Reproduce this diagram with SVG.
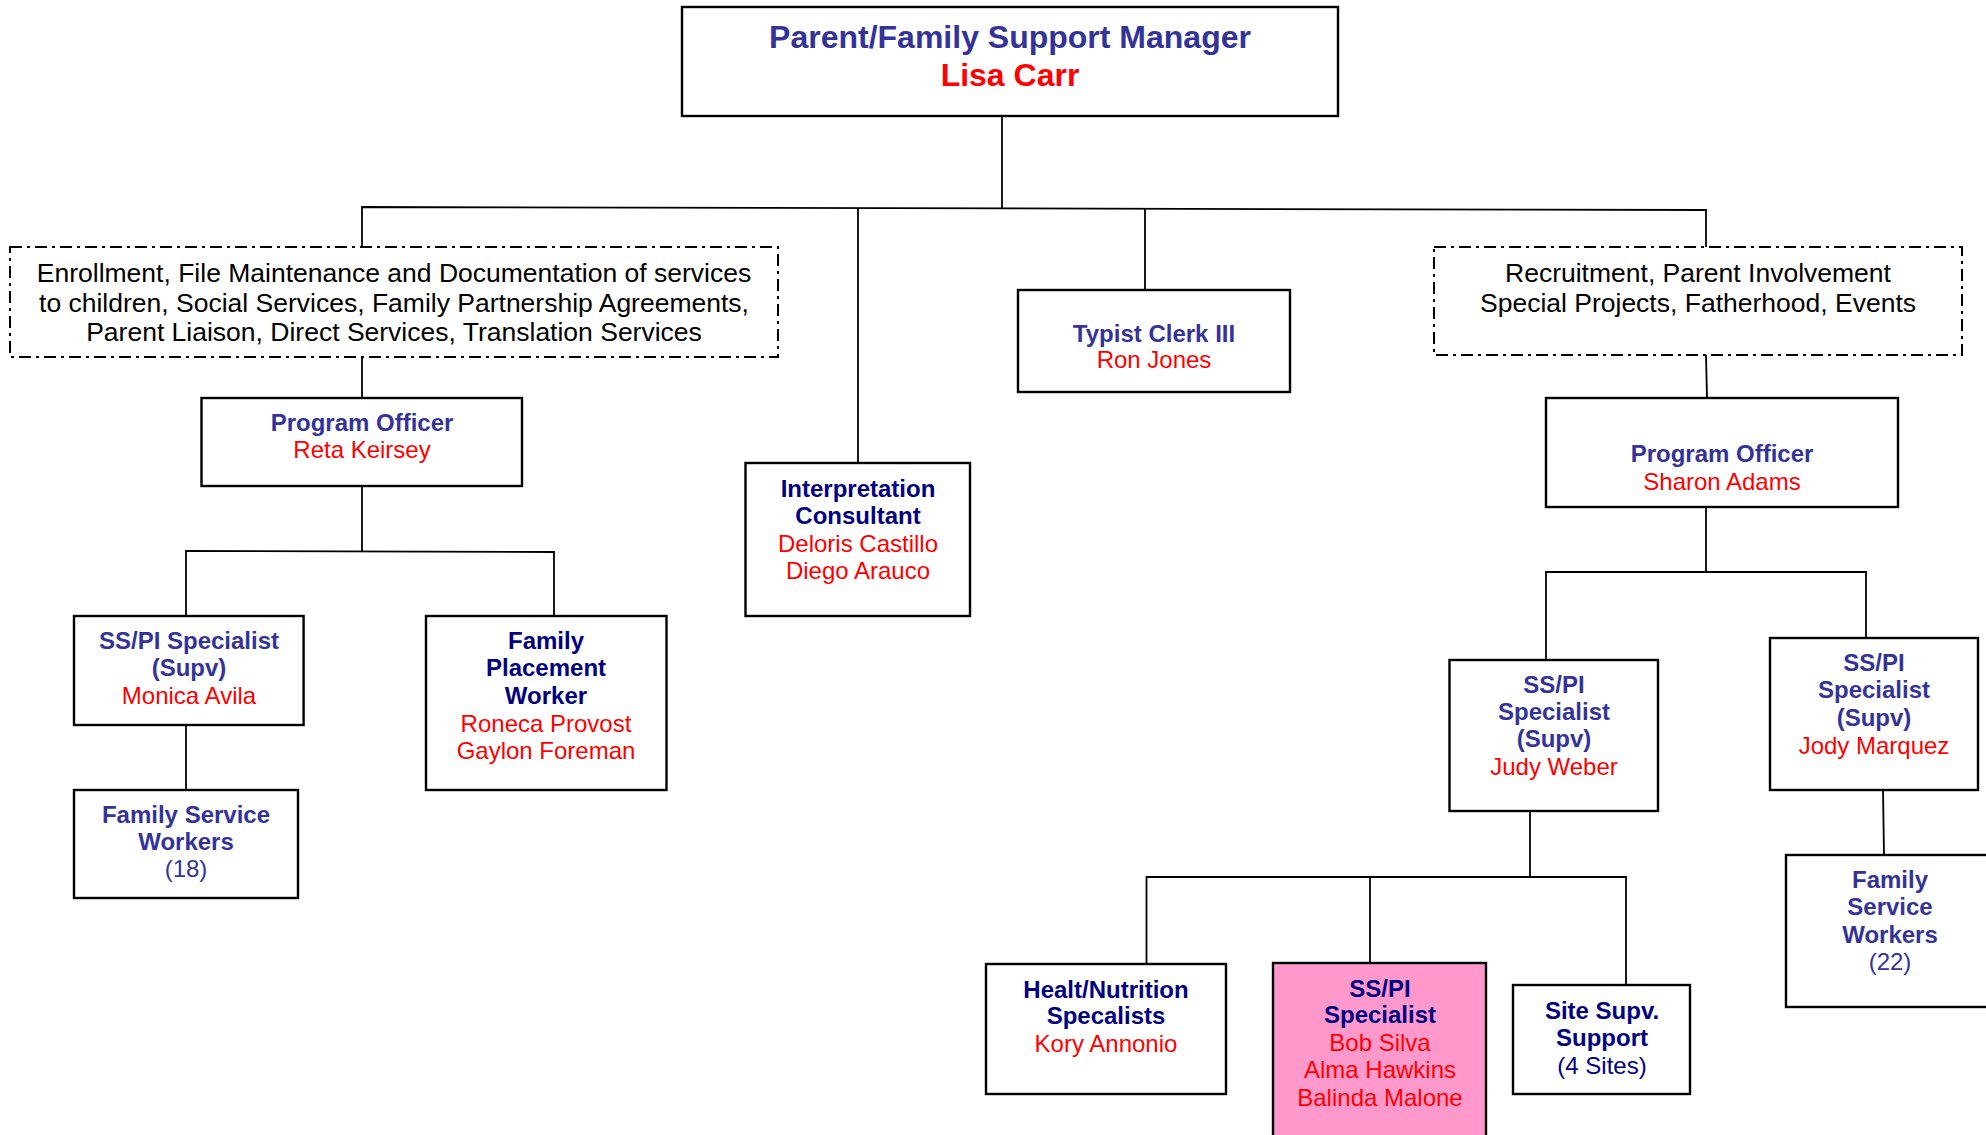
<svg xmlns="http://www.w3.org/2000/svg" width="1986" height="1135" viewBox="0 0 1986 1135">
<style>
.box{fill:#fff;stroke:#000;stroke-width:2.4}
.dash{fill:#fff;stroke:#000;stroke-width:2;stroke-dasharray:12 5 3 5}
.pink{fill:#ff99cc;stroke:#000;stroke-width:2.4}
.con{fill:none;stroke:#000;stroke-width:1.8}
text{font-family:"Liberation Sans",Arial,sans-serif;font-size:24px;text-anchor:middle}
.t{fill:#333399;font-weight:bold}
.tn{fill:#000080;font-weight:bold}
.n{fill:#ff0000}
.c{fill:#333399}
.cn{fill:#000080}
.d{fill:#000;font-size:26.5px}
.big{font-size:32px}
</style>
<rect width="1986" height="1135" fill="#fff"/>
<g id="connectors">
<path class="con" d="M1002,116 V208"/>
<path class="con" d="M362,247 V207 L1706,210 V247"/>
<path class="con" d="M858,208 V463"/>
<path class="con" d="M1145,209 V290"/>
<path class="con" d="M362,357 V398"/>
<path class="con" d="M1706,355 L1707,398"/>
<path class="con" d="M362,486 V551"/>
<path class="con" d="M186,616 V551 L554,552 V616"/>
<path class="con" d="M186,725 V790"/>
<path class="con" d="M1706,507 V572"/>
<path class="con" d="M1546,660 V572 H1866 V638"/>
<path class="con" d="M1883,790 L1884,855"/>
<path class="con" d="M1530,811 V877"/>
<path class="con" d="M1146.5,964 V877 H1626 V985"/>
<path class="con" d="M1370,877 V964"/>
</g>
<g id="manager">
<rect class="box" x="682" y="7" width="656" height="109"/>
<text x="1010" y="48" class="t big">Parent/Family Support Manager</text>
<text x="1010" y="86" class="n big" font-weight="bold">Lisa Carr</text>
</g>
<g id="enrollment-group">
<rect class="dash" x="10" y="247" width="768" height="110"/>
<text x="394" y="282" class="d">Enrollment, File Maintenance and Documentation of services</text>
<text x="394" y="311.5" class="d">to children, Social Services, Family Partnership Agreements,</text>
<text x="394" y="341" class="d">Parent Liaison, Direct Services, Translation Services</text>
</g>
<g id="recruitment-group">
<rect class="dash" x="1434" y="247" width="528" height="108"/>
<text x="1698" y="282" class="d">Recruitment, Parent Involvement</text>
<text x="1698" y="312" class="d">Special Projects, Fatherhood, Events</text>
</g>
<g id="typist-clerk">
<rect class="box" x="1018" y="290" width="272" height="102"/>
<text x="1154" y="342" class="t">Typist Clerk III</text>
<text x="1154" y="368" class="n">Ron Jones</text>
</g>
<g id="program-officer-left">
<rect class="box" x="201.5" y="398" width="320.5" height="88"/>
<text x="362" y="431" class="t">Program Officer</text>
<text x="362" y="458" class="n">Reta Keirsey</text>
</g>
<g id="interpretation-consultant">
<rect class="box" x="745.5" y="463" width="224.5" height="153"/>
<text x="858" y="497" class="tn">Interpretation</text>
<text x="858" y="524" class="tn">Consultant</text>
<text x="858" y="552" class="n">Deloris Castillo</text>
<text x="858" y="579" class="n">Diego Arauco</text>
</g>
<g id="program-officer-right">
<rect class="box" x="1546" y="398" width="352" height="109"/>
<text x="1722" y="462" class="t">Program Officer</text>
<text x="1722" y="490" class="n">Sharon Adams</text>
</g>
<g id="sspi-supv-avila">
<rect class="box" x="74" y="616" width="229.6" height="109"/>
<text x="189" y="649" class="t">SS/PI Specialist</text>
<text x="189" y="676" class="t">(Supv)</text>
<text x="189" y="704" class="n">Monica Avila</text>
</g>
<g id="family-service-workers-18">
<rect class="box" x="74" y="790" width="224" height="108"/>
<text x="186" y="823" class="t">Family Service</text>
<text x="186" y="850" class="t">Workers</text>
<text x="186" y="877" class="c">(18)</text>
</g>
<g id="family-placement-worker">
<rect class="box" x="426" y="616" width="240.5" height="174"/>
<text x="546" y="649" class="tn">Family</text>
<text x="546" y="676" class="tn">Placement</text>
<text x="546" y="704" class="tn">Worker</text>
<text x="546" y="732" class="n">Roneca Provost</text>
<text x="546" y="759" class="n">Gaylon Foreman</text>
</g>
<g id="sspi-supv-weber">
<rect class="box" x="1449.5" y="660" width="208.5" height="151"/>
<text x="1554" y="693" class="t">SS/PI</text>
<text x="1554" y="720" class="t">Specialist</text>
<text x="1554" y="747" class="t">(Supv)</text>
<text x="1554" y="775" class="n">Judy Weber</text>
</g>
<g id="sspi-supv-marquez">
<rect class="box" x="1770" y="638" width="208" height="152"/>
<text x="1874" y="671" class="t">SS/PI</text>
<text x="1874" y="698" class="t">Specialist</text>
<text x="1874" y="726" class="t">(Supv)</text>
<text x="1874" y="754" class="n">Jody Marquez</text>
</g>
<g id="family-service-workers-22">
<rect class="box" x="1786" y="855" width="208" height="152"/>
<text x="1890" y="888" class="t">Family</text>
<text x="1890" y="915" class="t">Service</text>
<text x="1890" y="943" class="t">Workers</text>
<text x="1890" y="970" class="c">(22)</text>
</g>
<g id="health-nutrition">
<rect class="box" x="986" y="964" width="240" height="130"/>
<text x="1106" y="998" class="tn">Healt/Nutrition</text>
<text x="1106" y="1024" class="tn">Specalists</text>
<text x="1106" y="1052" class="n">Kory Annonio</text>
</g>
<g id="sspi-specialist">
<rect class="pink" x="1273" y="963" width="213" height="180"/>
<text x="1380" y="997" class="tn">SS/PI</text>
<text x="1380" y="1023" class="tn">Specialist</text>
<text x="1380" y="1051" class="n">Bob Silva</text>
<text x="1380" y="1078" class="n">Alma Hawkins</text>
<text x="1380" y="1106" class="n">Balinda Malone</text>
</g>
<g id="site-supv-support">
<rect class="box" x="1513" y="985" width="177" height="109"/>
<text x="1602" y="1019" class="tn">Site Supv.</text>
<text x="1602" y="1046" class="tn">Support</text>
<text x="1602" y="1074" class="cn">(4 Sites)</text>
</g>
</svg>
